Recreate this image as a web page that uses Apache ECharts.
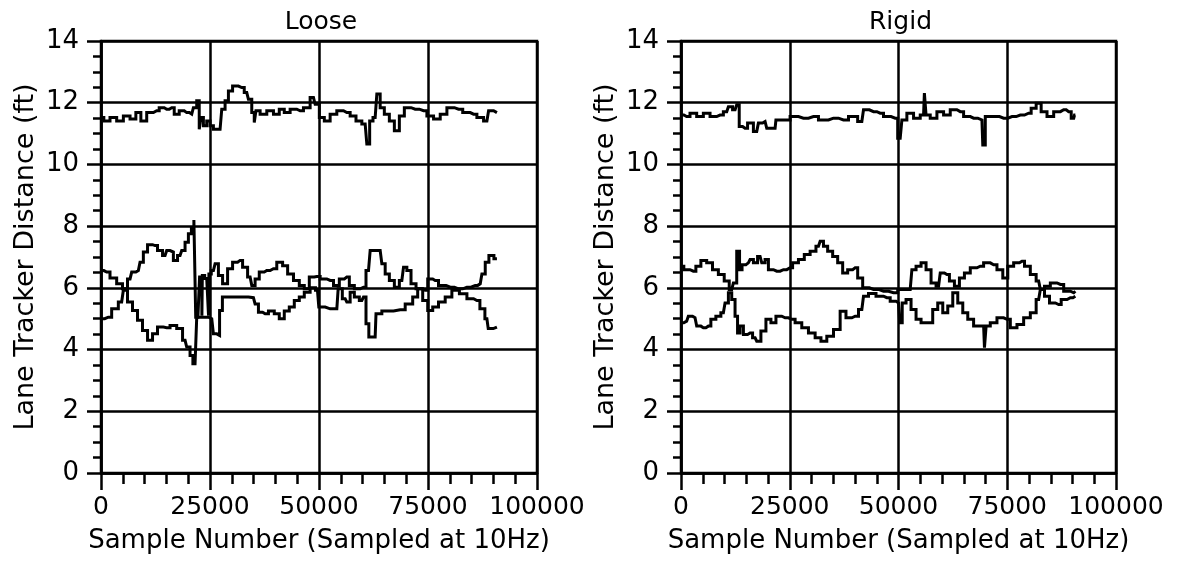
<!DOCTYPE html>
<html>
<head>
<meta charset="utf-8">
<script src="https://cdn.jsdelivr.net/npm/echarts@6/dist/echarts.min.js"></script>
<style>
html, body { margin: 0; padding: 0; background: #fff; }
#chart { width: 1177px; height: 570px; }
</style>
</head>
<body>
<div id="chart"></div>
<script>
const panelTitles = ["Loose", "Rigid"]
const xTicks = [0, 25000, 50000, 75000, 100000]
const yTicks = [0, 2, 4, 6, 8, 10, 12, 14]
const xName = "Sample Number (Sampled at 10Hz)"
const yName = "Lane Tracker Distance (ft)"

// Loose: [sample, ft]
const looseWidth = [[0,11.52],[1300,11.41],[2830,11.52],[4360,11.41],[5900,11.57],[7420,11.47],[8570,11.68],[9720,11.41],[11250,11.68],[12780,11.74],[13920,11.84],[15070,11.79],[16220,11.84],[17370,11.63],[18510,11.74],[19660,11.68],[20810,11.63],[21570,11.84],[22340,12.06],[22720,11.14],[23100,11.52],[23870,11.25],[24630,11.41],[25400,11.25],[26160,11.14],[27310,11.14],[28080,11.79],[28840,12.06],[29610,12.38],[30750,12.54],[32280,12.49],[33430,12.33],[34200,12.11],[34960,11.68],[35340,11.36],[35730,11.74],[37260,11.63],[38790,11.74],[40320,11.63],[41460,11.79],[42610,11.68],[44140,11.79],[45670,11.74],[47200,11.84],[48730,12.17],[49500,11.95],[50650,11.52],[51790,11.41],[53320,11.63],[54850,11.74],[56380,11.68],[57910,11.57],[59060,11.41],[60590,11.31],[61350,10.66],[61890,11.41],[62880,11.52],[63650,12.28],[64410,11.84],[65560,11.63],[66710,11.41],[67860,11.09],[69000,11.57],[70150,11.84],[72060,11.79],[73980,11.74],[75510,11.57],[77040,11.47],[78570,11.63],[80100,11.84],[82010,11.79],[83920,11.68],[85450,11.63],[86980,11.52],[88510,11.41],[89280,11.74],[90810,11.68]]
const looseUpper = [[0,6.56],[1300,6.51],[2830,6.32],[4360,6.13],[5510,5.97],[6660,6.29],[7420,6.51],[8570,6.56],[9330,6.83],[10100,7.16],[11250,7.40],[12390,7.37],[13540,7.21],[14690,7.05],[15450,7.21],[16220,7.16],[16980,6.89],[18130,7.05],[18900,7.21],[19660,7.48],[20430,7.75],[21040,7.96],[21570,8.20],[21880,5.05],[22570,5.05],[22650,6.35],[23100,6.35],[23180,5.10],[23300,6.40],[24250,6.30],[24630,6.30],[24700,5.10],[24800,6.45],[25780,6.56],[26550,6.78],[27310,6.40],[28460,6.13],[29610,6.62],[30750,6.83],[31900,6.89],[33050,6.67],[34200,6.35],[34960,6.08],[35730,6.29],[36870,6.51],[38020,6.56],[39550,6.62],[41080,6.83],[42230,6.72],[43380,6.45],[44910,6.24],[46050,6.08],[47200,5.97],[48350,6.35],[49500,6.37],[51030,6.29],[52560,6.24],[54090,6.08],[55230,6.29],[56380,6.35],[57530,6.08],[58680,5.97],[60210,6.02],[61350,6.56],[62120,7.21],[64030,7.21],[64800,6.78],[65560,6.45],[66710,6.24],[67860,6.02],[69000,6.24],[69770,6.67],[70530,6.56],[71680,6.13],[72830,5.97],[74360,5.92],[75510,6.29],[76650,6.24],[78180,6.08],[80100,6.02],[82010,5.97],[83920,6.02],[85830,6.08],[86980,6.13],[87750,6.45],[88510,6.83],[89430,7.05],[90810,6.94]]
const looseLower = [[0,5.00],[1680,5.05],[3210,5.32],[4740,5.54],[5510,5.92],[6660,5.54],[7800,5.27],[8950,4.95],[10100,4.62],[11250,4.30],[12390,4.51],[13540,4.73],[15070,4.71],[16600,4.78],[18130,4.68],[19280,4.30],[20040,4.08],[20810,3.81],[21340,3.54],[21800,3.54],[22110,5.05],[23490,5.05],[24630,5.05],[25400,5.00],[26160,4.51],[26930,4.46],[27460,5.27],[28230,5.70],[30370,5.70],[32670,5.70],[34960,5.68],[35730,5.48],[36490,5.21],[37640,5.16],[39170,5.25],[40320,5.16],[41460,5.00],[42610,5.25],[43760,5.38],[44910,5.59],[46050,5.70],[47200,5.86],[48730,6.00],[49650,5.92],[50260,5.38],[52560,5.32],[54090,5.32],[54700,5.97],[56000,5.65],[56760,5.54],[57530,5.86],[58680,5.70],[59820,5.59],[60590,5.70],[60970,4.84],[61890,4.41],[62880,4.41],[63270,5.16],[65560,5.25],[68620,5.29],[70920,5.48],[72060,5.70],[73210,5.97],[74360,5.59],[75510,5.27],[76650,5.38],[78180,5.54],[79710,5.70],[81240,5.92],[83160,5.81],[84690,5.65],[86220,5.59],[87590,5.32],[88510,5.00],[89120,4.68],[90810,4.73]]

// Rigid: [sample, ft]
const rigidWidth = [[0,11.60],[1300,11.55],[2840,11.66],[4370,11.55],[5910,11.66],[7440,11.55],[8970,11.60],[10510,11.71],[11280,11.87],[12430,11.77],[13190,11.93],[13580,11.23],[14730,11.17],[15880,11.34],[17410,11.07],[18180,11.34],[19330,11.39],[20100,11.17],[21630,11.17],[22010,11.44],[24310,11.44],[25850,11.55],[28150,11.50],[30450,11.55],[32750,11.44],[35050,11.50],[37350,11.44],[39650,11.55],[41570,11.39],[42340,11.77],[44260,11.71],[45790,11.66],[47320,11.55],[49240,11.50],[50390,10.85],[51160,11.44],[52690,11.66],[54230,11.50],[55760,11.60],[56140,12.31],[56530,11.60],[58060,11.50],[59600,11.71],[61130,11.60],[62660,11.77],[64200,11.71],[65730,11.55],[67270,11.50],[69180,11.44],[69570,10.63],[70330,11.55],[72250,11.55],[74170,11.50],[76090,11.55],[78000,11.60],[79920,11.66],[81070,11.82],[82220,11.98],[83370,11.71],[84910,11.55],[86440,11.71],[87980,11.77],[89130,11.71],[90280,11.50],[90660,11.60]]
const rigidUpper = [[0,6.70],[1300,6.59],[2840,6.54],[4000,6.70],[5140,6.89],[6670,6.81],[7820,6.59],[9360,6.43],[10510,6.22],[11660,5.95],[12430,6.16],[13190,7.19],[13730,6.59],[14340,6.75],[15490,6.81],[16260,6.92],[17030,6.81],[18180,7.02],[18950,6.81],[19710,6.92],[20480,6.59],[22010,6.54],[23550,6.59],[25080,6.65],[26230,6.81],[27770,6.92],[28920,7.08],[30450,7.19],[31600,7.35],[32370,7.51],[33130,7.35],[34290,7.19],[35440,7.02],[36590,6.81],[37740,6.48],[38890,6.59],[40040,6.65],[41190,6.32],[42340,6.00],[44260,5.95],[46560,5.89],[48860,5.84],[50780,5.95],[52690,5.95],[53460,6.59],[54610,6.70],[55760,6.81],[56910,6.59],[58060,6.16],[59210,6.05],[59980,6.48],[61130,6.43],[62280,6.22],[63430,6.05],[64580,6.32],[65730,6.48],[67270,6.65],[68800,6.70],[70330,6.81],[71870,6.75],[73400,6.59],[74550,6.32],[75700,6.70],[77240,6.81],[78390,6.86],[79540,6.70],[81070,6.43],[82220,6.22],[82990,5.95],[84140,6.05],[85670,6.16],[87210,6.11],[88740,5.89],[90280,5.84],[90660,5.89]]
const rigidLower = [[0,4.87],[1300,4.92],[2070,5.08],[3220,5.03],[4000,4.76],[5140,4.71],[6290,4.76],[7440,4.98],[8590,5.08],[9740,5.19],[10510,5.51],[11280,5.84],[12040,5.62],[12810,5.08],[13190,4.54],[13960,4.76],[14730,4.49],[15880,4.54],[17030,4.38],[17790,4.27],[18950,4.60],[20100,4.98],[21250,4.87],[22400,5.08],[23930,5.03],[25460,4.98],[27000,4.87],[28530,4.71],[30070,4.54],[31600,4.38],[32750,4.27],[34290,4.43],[35820,4.65],[37350,5.24],[38500,5.03],[40040,5.08],[41570,5.30],[42340,5.73],[43870,5.82],[45790,5.73],[47320,5.68],[48860,5.57],[50010,5.51],[50550,4.87],[51160,5.51],[52310,5.62],[53460,5.30],[54610,4.98],[55760,4.87],[57290,4.87],[58440,5.30],[59600,5.51],[60750,5.19],[61900,5.41],[63050,5.84],[64200,5.51],[65350,5.19],[66500,4.98],[68030,4.76],[69570,4.76],[69950,4.06],[70330,4.76],[71870,4.87],[73400,5.03],[74940,4.98],[76470,4.71],[78000,4.81],[79540,5.03],[81070,5.19],[82220,5.62],[82990,5.95],[84140,5.73],[85290,5.51],[86820,5.46],[87980,5.62],[89510,5.68],[90660,5.73]]

const panelData = [[looseWidth, looseUpper, looseLower], [rigidWidth, rigidUpper, rigidLower]]
const fontName = "DejaVu Sans"
const ink = "#000"

function makeXAxis(index) {
    return {
        type: "value", gridIndex: index,
        min: xTicks[0], max: xTicks[xTicks.length - 1], interval: xTicks[1] - xTicks[0],
        name: xName, nameLocation: "middle", nameGap: 55,
        nameTextStyle: { color: ink, fontSize: 26, fontFamily: fontName },
        axisLine: { lineStyle: { color: ink, width: 2.5 } },
        axisTick: { length: 17, lineStyle: { color: ink, width: 2.5 } },
        minorTick: { show: true, splitNumber: 5, length: 11, lineStyle: { color: ink, width: 2.5 } },
        axisLabel: { color: ink, fontSize: 25, fontFamily: fontName, margin: 22,
            formatter: v => String(v) },
        splitLine: { show: true, lineStyle: { color: ink, width: 2.5 } }
    }
}
function makeYAxis(index) {
    return {
        type: "value", gridIndex: index,
        min: yTicks[0], max: yTicks[yTicks.length - 1], interval: yTicks[1] - yTicks[0],
        name: yName, nameLocation: "middle", nameGap: 62,
        nameTextStyle: { color: ink, fontSize: 27, fontFamily: fontName },
        axisLine: { lineStyle: { color: ink, width: 2.5 } },
        axisTick: { length: 14, lineStyle: { color: ink, width: 2.5 } },
        minorTick: { show: true, splitNumber: 4, length: 8, lineStyle: { color: ink, width: 2.5 } },
        axisLabel: { color: ink, fontSize: 26, fontFamily: fontName, margin: 22 },
        splitLine: { show: true, lineStyle: { color: ink, width: 2.5 } }
    }
}

const grids = [
    { left: 101, right: 640, top: 41, bottom: 97 },
    { left: 681, right: 61, top: 41, bottom: 97 }
]
var series = []
panelData.forEach((lines, gi) => {
    lines.forEach(line => {
        series.push({
            type: "line", xAxisIndex: gi, yAxisIndex: gi, data: line,
            step: "middle", showSymbol: false, silent: true, animation: false,
            lineStyle: { color: ink, width: 3, join: "miter" }
        })
    })
})

var chart = echarts.init(document.getElementById("chart"))
chart.setOption({
    backgroundColor: "#fff",
    animation: false,
    title: panelTitles.map((t, i) => ({
        text: t, top: 5,
        left: (grids[i].left + (1177 - grids[i].right)) / 2 - 3, textAlign: "center",
        textStyle: { color: ink, fontSize: 25, fontWeight: "normal", fontFamily: fontName }
    })),
    grid: grids.map(g => Object.assign({ show: true, borderColor: ink, borderWidth: 2.5, containLabel: false }, g)),
    xAxis: grids.map((g, i) => makeXAxis(i)),
    yAxis: grids.map((g, i) => makeYAxis(i)),
    series: series
})
</script>
</body>
</html>
